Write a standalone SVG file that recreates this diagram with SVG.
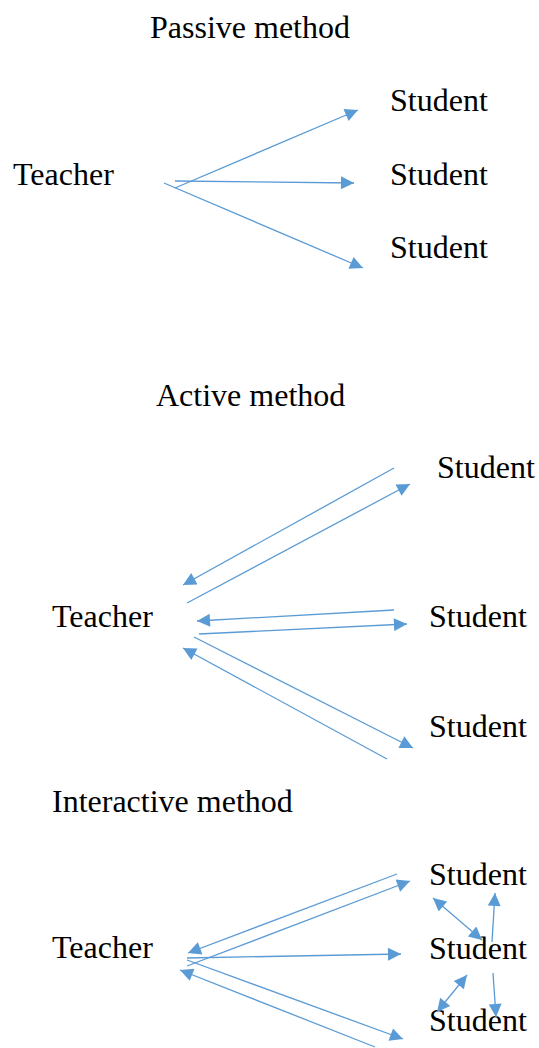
<svg xmlns="http://www.w3.org/2000/svg" width="539" height="1048" viewBox="0 0 539 1048">
<style>
text{font-family:"Liberation Serif","Times New Roman",serif;font-size:32px;fill:#000}
.c line{stroke:#5B9BD5;stroke-width:1.3;fill:none;marker-end:url(#ah)}
.c line.d{marker-start:url(#ah)}
</style>
<defs>
<marker id="ah" markerUnits="userSpaceOnUse" viewBox="0 0 10 10" markerWidth="16" markerHeight="13" refX="10" refY="5" orient="auto-start-reverse">
<path d="M0,0 L10,5 L0,10 z" fill="#5B9BD5"/>
</marker>
</defs>
<rect width="539" height="1048" fill="#fff"/>
<g id="passive">
<text id="t-passive" x="150" y="38">Passive method</text>
<g id="p-teacher"><text x="13" y="185">Teacher</text></g>
<g id="p-s1"><text x="390" y="111">Student</text></g>
<g id="p-s2"><text x="390" y="185">Student</text></g>
<g id="p-s3"><text x="390" y="258">Student</text></g>
</g>
<g id="active">
<text id="t-active" x="156" y="406">Active method</text>
<g id="a-teacher"><text x="52" y="627">Teacher</text></g>
<g id="a-s1"><text x="437" y="478">Student</text></g>
<g id="a-s2"><text x="429" y="627">Student</text></g>
<g id="a-s3"><text x="429" y="737">Student</text></g>
</g>
<g id="interactive">
<text id="t-interactive" x="52" y="812">Interactive method</text>
<g id="i-teacher"><text x="52" y="958">Teacher</text></g>
<g id="i-s1"><text x="429" y="885">Student</text></g>
<g id="i-s2"><text x="429" y="959">Student</text></g>
<g id="i-s3"><text x="429" y="1031">Student</text></g>
</g>
<g id="connectors" class="c">
<line x1="175" y1="188" x2="358" y2="110"/>
<line x1="175" y1="181" x2="354" y2="183"/>
<line x1="164" y1="183" x2="363" y2="268"/>

<line x1="394" y1="468" x2="183" y2="585"/>
<line x1="187" y1="603" x2="410" y2="484"/>
<line x1="394" y1="610" x2="197" y2="621"/>
<line x1="199" y1="634" x2="407" y2="624"/>
<line x1="194" y1="637" x2="413" y2="748"/>
<line x1="387" y1="759" x2="183" y2="648"/>

<line x1="397" y1="874" x2="188" y2="953"/>
<line x1="187" y1="966" x2="410" y2="881"/>
<line x1="187" y1="958" x2="401" y2="954"/>
<line x1="187" y1="960" x2="403" y2="1039"/>
<line x1="375" y1="1047" x2="180" y2="970"/>
<line class="d" x1="433" y1="898" x2="482" y2="940"/>
<line x1="492" y1="942" x2="495" y2="893"/>
<line class="d" x1="467" y1="975" x2="437" y2="1012"/>
<line x1="493" y1="973" x2="496" y2="1017"/>
</g>
</svg>
